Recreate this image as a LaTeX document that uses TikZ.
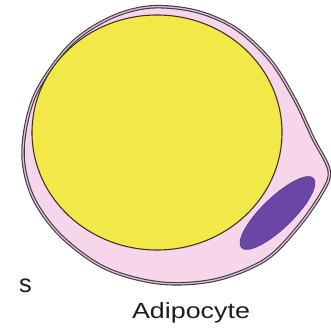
\documentclass[tikz,border=0pt]{standalone}
\usepackage{fontspec}
\setmainfont{Liberation Sans}
\definecolor{cytoplasm}{RGB}{247,214,235}
\definecolor{lipid}{RGB}{242,232,72}
\definecolor{nucleusfill}{RGB}{106,70,166}
\definecolor{membrane}{RGB}{65,55,65}
\definecolor{membranecore}{RGB}{215,195,215}
\definecolor{dropletedge}{RGB}{60,55,35}
\definecolor{ink}{RGB}{30,30,30}
\tikzset{
  cellwall/.style={draw=membrane, line width=1.1pt, double=membranecore, double distance=1.3pt, fill=cytoplasm},
  droplet/.style={draw=dropletedge, line width=1.1pt, fill=lipid},
  nucleusbody/.style={fill=nucleusfill, draw=nucleusfill!85!black, line width=0.6pt},
  caption/.style={inner sep=0pt, text=ink, font=\fontsize{22}{26}\selectfont}
}
\begin{document}
\begin{tikzpicture}[x=1pt,y=-1pt]
\useasboundingbox (0,0) rectangle (331,329);
% cell outline with the pointed bulge holding the nucleus
\draw[cellwall] plot[smooth cycle, tension=0.55] coordinates {
  (23,150) (35,95) (70,45) (110,18) (150,7) (195,11) (235,28) (270,60)
  (295,100) (313,138) (329,170) (323,191) (298,227) (265,260) (215,280)
  (160,283) (105,268) (60,235) (32,195)};
% lipid droplet
\draw[droplet] (157,132.5) ellipse [x radius=125, y radius=117.5];
% flattened nucleus
\fill[nucleusbody, rotate around={44:(277.5,213)}] (277.5,213) ellipse [x radius=50, y radius=15.5];
% labels
\node[caption, anchor=base, xscale=1.22] (lbl) at (191,318) {Adipocyte};
\node[caption, anchor=base, scale=1.15] (side) at (25.5,292) {s};
\end{tikzpicture}
\end{document}
